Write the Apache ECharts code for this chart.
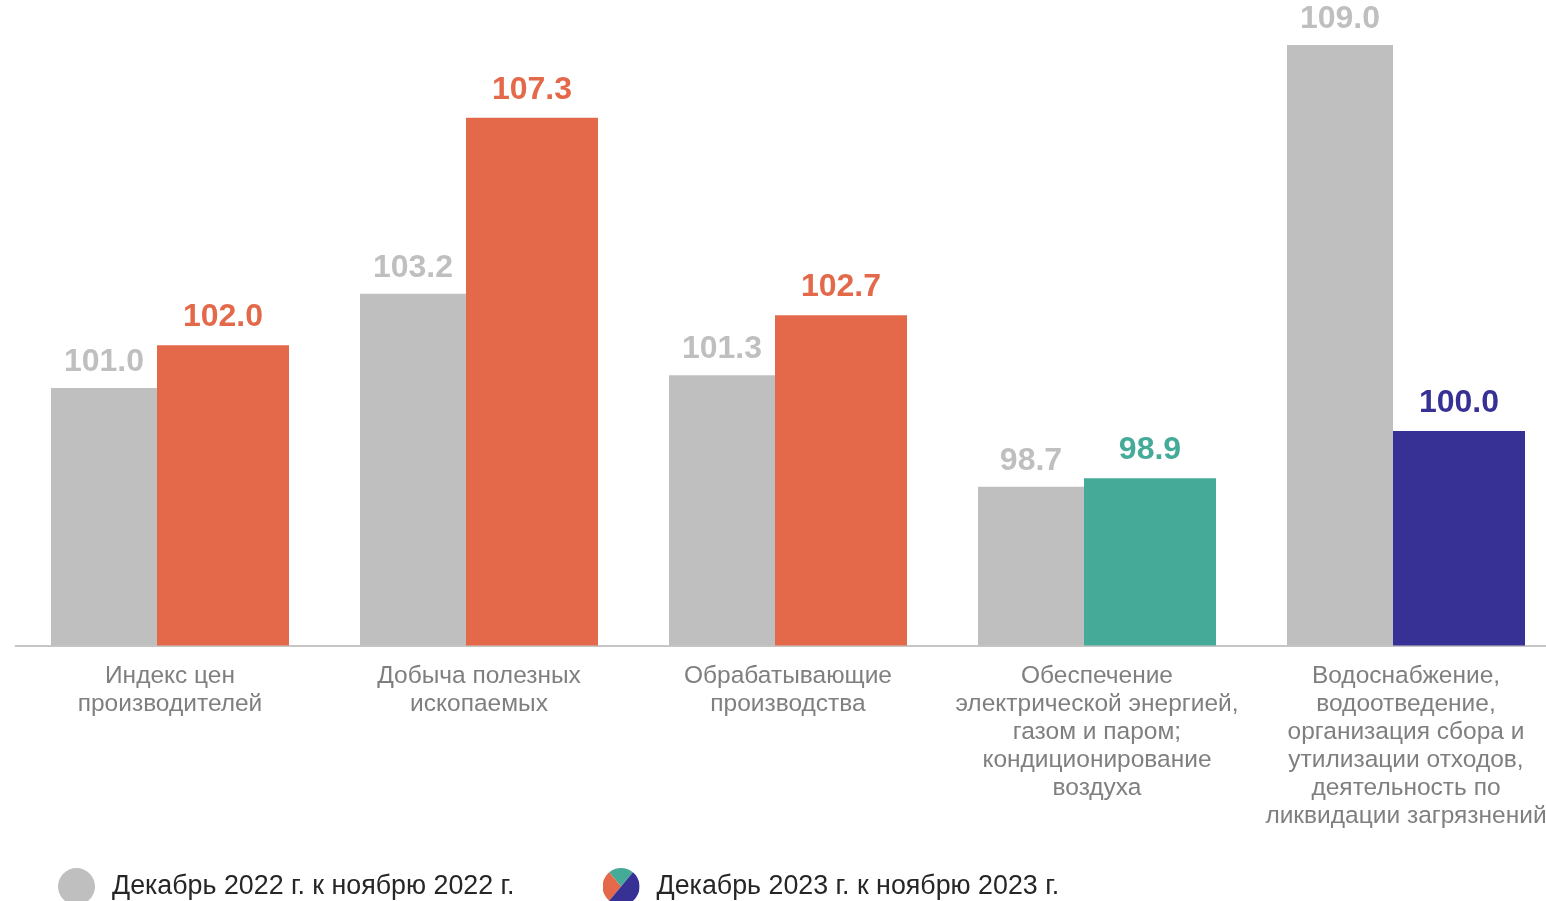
<!DOCTYPE html>
<html>
<head>
<meta charset="utf-8">
<script src="https://cdn.jsdelivr.net/npm/echarts@6/dist/echarts.min.js"></script>
<style>
html,body{margin:0;padding:0;background:#fff;overflow:hidden;}
#chart{width:1546px;height:901px;}
</style>
</head>
<body>
<div id="chart"></div>
<script>
const categories = [
  'Индекс цен\nпроизводителей',
  'Добыча полезных\nископаемых',
  'Обрабатывающие\nпроизводства',
  'Обеспечение\nэлектрической энергией,\nгазом и паром;\nкондиционирование\nвоздуха',
  'Водоснабжение,\nводоотведение,\nорганизация сбора и\nутилизации отходов,\nдеятельность по\nликвидации загрязнений'
];
const seriesNames = ['Декабрь 2022 г. к ноябрю 2022 г.', 'Декабрь 2023 г. к ноябрю 2023 г.'];
const values2022 = [101.0, 103.2, 101.3, 98.7, 109.0];
const values2023 = [102.0, 107.3, 102.7, 98.9, 100.0];
const colors2023 = ['#E3694A', '#E3694A', '#E3694A', '#45AB98', '#373195'];

const GRAY = '#BFBFBF';
const FONT = '"Liberation Sans", Arial, sans-serif';

const pieSvg = '<svg xmlns="http://www.w3.org/2000/svg" width="100" height="100" viewBox="0 0 100 100">' +
  '<path d="M50,50 L82.14,11.70 A50,50 0 0 0 17.86,11.70 Z" fill="#45AB98"/>' +
  '<path d="M50,50 L17.86,11.70 A50,50 0 0 0 17.86,88.30 Z" fill="#E3694A"/>' +
  '<path d="M50,50 L17.86,88.30 A50,50 0 1 0 82.14,11.70 Z" fill="#373195"/>' +
  '</svg>';
const pieIcon = 'image://data:image/svg+xml;charset=utf-8,' + encodeURIComponent(pieSvg);

const chart = echarts.init(document.getElementById('chart'), null, {renderer: 'canvas'});
chart.setOption({
  animation: false,
  backgroundColor: '#ffffff',
  grid: {left: 15.5, top: 2, width: 1545, height: 643.5, containLabel: false, outerBoundsMode: 'none'},
  xAxis: {
    type: 'category',
    data: categories,
    axisLine: {show: true, lineStyle: {color: '#C6C6C6', width: 2}},
    axisTick: {show: false},
    axisLabel: {
      interval: 0,
      margin: 17,
      color: '#7F7F7F',
      fontFamily: FONT,
      fontSize: 24.5,
      lineHeight: 28,
      align: 'center',
      hideOverlap: false
    },
    splitLine: {show: false}
  },
  yAxis: {
    type: 'value',
    min: 95,
    max: 110,
    show: false,
    splitLine: {show: false}
  },
  legend: {
    left: 58,
    top: 868,
    padding: 0,
    itemWidth: 37,
    itemHeight: 37,
    itemGap: 88,
    textStyle: {color: '#262626', fontFamily: FONT, fontSize: 26.8, padding: [0, 0, 0, 12]},
    data: [
      {name: seriesNames[0], icon: 'circle'},
      {name: seriesNames[1], icon: pieIcon}
    ]
  },
  series: [
    {
      name: seriesNames[0],
      type: 'bar',
      data: values2022,
      barWidth: 106,
      barGap: 0,
      itemStyle: {color: GRAY},
      label: {
        show: true,
        position: 'top',
        distance: 10,
        color: GRAY,
        fontFamily: FONT,
        fontWeight: 'bold',
        fontSize: 32,
        formatter: p => p.value.toFixed(1)
      }
    },
    {
      name: seriesNames[1],
      type: 'bar',
      barWidth: 132,
      barGap: 0,
      data: values2023.map((v, i) => ({
        value: v,
        itemStyle: {color: colors2023[i]},
        label: {color: colors2023[i]}
      })),
      itemStyle: {color: '#E3694A'},
      label: {
        show: true,
        position: 'top',
        distance: 12,
        fontFamily: FONT,
        fontWeight: 'bold',
        fontSize: 32,
        formatter: p => p.value.toFixed(1)
      }
    }
  ]
});
</script>
</body>
</html>
